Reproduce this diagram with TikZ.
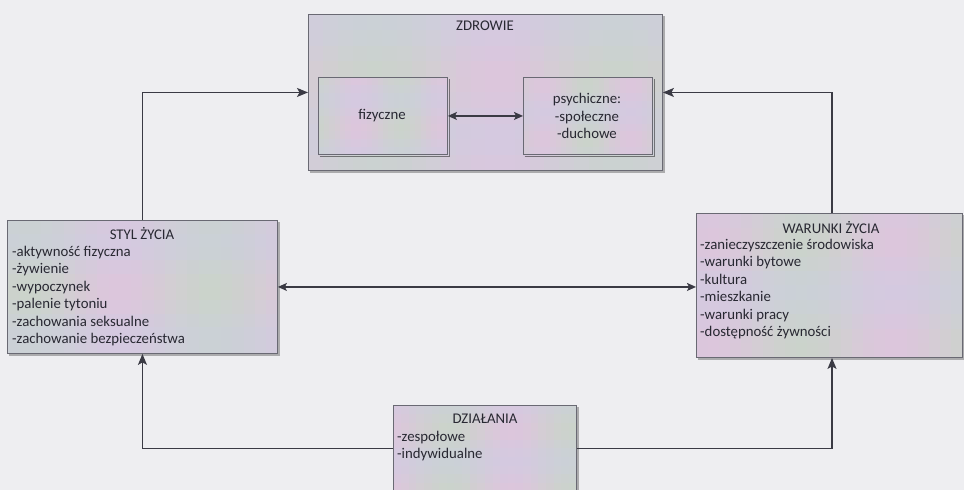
\documentclass[tikz,border=0pt]{standalone}
\usepackage{fontspec}
\setmainfont{Carlito}
\usetikzlibrary{arrows.meta,calc}
\pgfdeclarelayer{background}
\pgfdeclarelayer{shadowlayer}
\pgfsetlayers{background,shadowlayer,main}
\definecolor{bgc}{RGB}{238,238,241}
\definecolor{linec}{RGB}{58,58,68}
\definecolor{borderc}{RGB}{105,105,115}
\definecolor{cgreen}{RGB}{204,212,202}
\definecolor{cpink}{RGB}{222,198,220}
\definecolor{cblue}{RGB}{202,206,230}
\definecolor{txtc}{RGB}{40,40,50}
\tikzset{
  pastel/.style={draw=borderc, line width=0.9pt, fill=cpink,
    path picture={
      \foreach \i in {0,...,23}{
        \pgfmathsetmacro{\pa}{\i/24}
        \pgfmathsetmacro{\pb}{(\i+1.2)/24}
        \pgfmathtruncatemacro{\pc}{50+50*sin(\i*22+#1)}
        \fill[cgreen!\pc!cpink]
          ($(path picture bounding box.south west)!\pa!(path picture bounding box.south east)$)
          rectangle
          ($(path picture bounding box.north west)!\pb!(path picture bounding box.north east)$);
      }
      \foreach \j in {0,...,9}{
        \pgfmathsetmacro{\qa}{\j/10}
        \pgfmathsetmacro{\qb}{(\j+1)/10}
        \pgfmathsetmacro{\qo}{0.25+0.2*sin(\j*50+#1)}
        \fill[cblue, fill opacity=\qo]
          ($(path picture bounding box.south west)!\qa!(path picture bounding box.north west)$)
          rectangle
          ($(path picture bounding box.south east)!\qb!(path picture bounding box.north east)$);
      }
    }},
  pastel/.default=0,
  boxtxt/.style={font=\fontsize{14.8}{17.5}\selectfont, text=txtc, inner sep=0pt},
  listtxt/.style={boxtxt, align=left, anchor=north west},
  conn/.style={draw=linec, line width=1.3pt},
  arr/.style={conn, -{Stealth[length=11pt,width=9pt,inset=2.5pt]}},
  darr/.style={conn, {Stealth[length=9pt,width=8pt,inset=2pt]}-{Stealth[length=9pt,width=8pt,inset=2pt]}},
  shadowfill/.style={fill=black, fill opacity=0.28},
}
\begin{document}
\begin{tikzpicture}[x=1pt,y=-1pt]
\useasboundingbox (0,0) rectangle (964,490);
\begin{pgfonlayer}{background}
\fill[bgc] (0,0) rectangle (964,490);
\end{pgfonlayer}
\clip (0,0) rectangle (964,490);
% boxes
\node[pastel=0, anchor=north west, minimum width=354pt, minimum height=156pt] (zdrowie) at (308,14) {};
\node[pastel=120, anchor=north west, minimum width=129pt, minimum height=77pt] (fiz) at (318,77) {};
\node[pastel=200, anchor=north west, minimum width=129pt, minimum height=77pt] (psy) at (523,77) {};
\node[pastel=60, anchor=north west, minimum width=270pt, minimum height=133pt] (styl) at (7,220) {};
\node[pastel=250, anchor=north west, minimum width=266pt, minimum height=144pt] (warunki) at (696,213) {};
\node[pastel=300, anchor=north west, minimum width=183pt, minimum height=86pt] (dzial) at (393,405) {};
% shadows
\begin{pgfonlayer}{shadowlayer}
\foreach \b in {zdrowie,styl,warunki,dzial}
  \fill[shadowfill] ([shift={(1.8,1.8)}]\b.south west) rectangle ([shift={(1.8,1.8)}]\b.north east);
\end{pgfonlayer}
\foreach \b in {fiz,psy}
  \draw[black, opacity=0.45, line width=1.2pt] ([shift={(1.5,1.2)}]\b.south west) -- ([shift={(1.2,1.2)}]\b.south east) -- ([shift={(1.2,1.5)}]\b.north east);
% texts
\node[boxtxt] (tz) at (485,26) {ZDROWIE};
\node[boxtxt] (tf) at (382,116) {fizyczne};
\node[boxtxt, align=center] (tp) at (587,116) {psychiczne:\\-społeczne\\-duchowe};
\node[boxtxt] (ts) at (142,234) {STYL ŻYCIA};
\node[listtxt] (ls) at (12,246) {-aktywność fizyczna\\-żywienie\\-wypoczynek\\-palenie tytoniu\\-zachowania seksualne\\-zachowanie bezpieczeństwa};
\node[boxtxt] (tw) at (831,228) {WARUNKI ŻYCIA};
\node[listtxt] (lw) at (700,239) {-zanieczyszczenie środowiska\\-warunki bytowe\\-kultura\\-mieszkanie\\-warunki pracy\\-dostępność żywności};
\node[boxtxt] (td) at (485,419) {DZIAŁANIA};
\node[listtxt] (ld) at (397,431) {-zespołowe\\-indywidualne};
% connectors
\draw[darr] (fiz.east) -- (psy.west);
\draw[arr] (styl.north) |- (zdrowie.west);
\draw[arr] (warunki.north -| 832,0) |- (zdrowie.east);
\draw[darr] (styl.east) -- (styl.east -| warunki.west);
\draw[arr] (dzial.west) -| (styl.south);
\draw[arr] (dzial.east) -| (warunki.south -| 832,0);
\end{tikzpicture}
\end{document}
